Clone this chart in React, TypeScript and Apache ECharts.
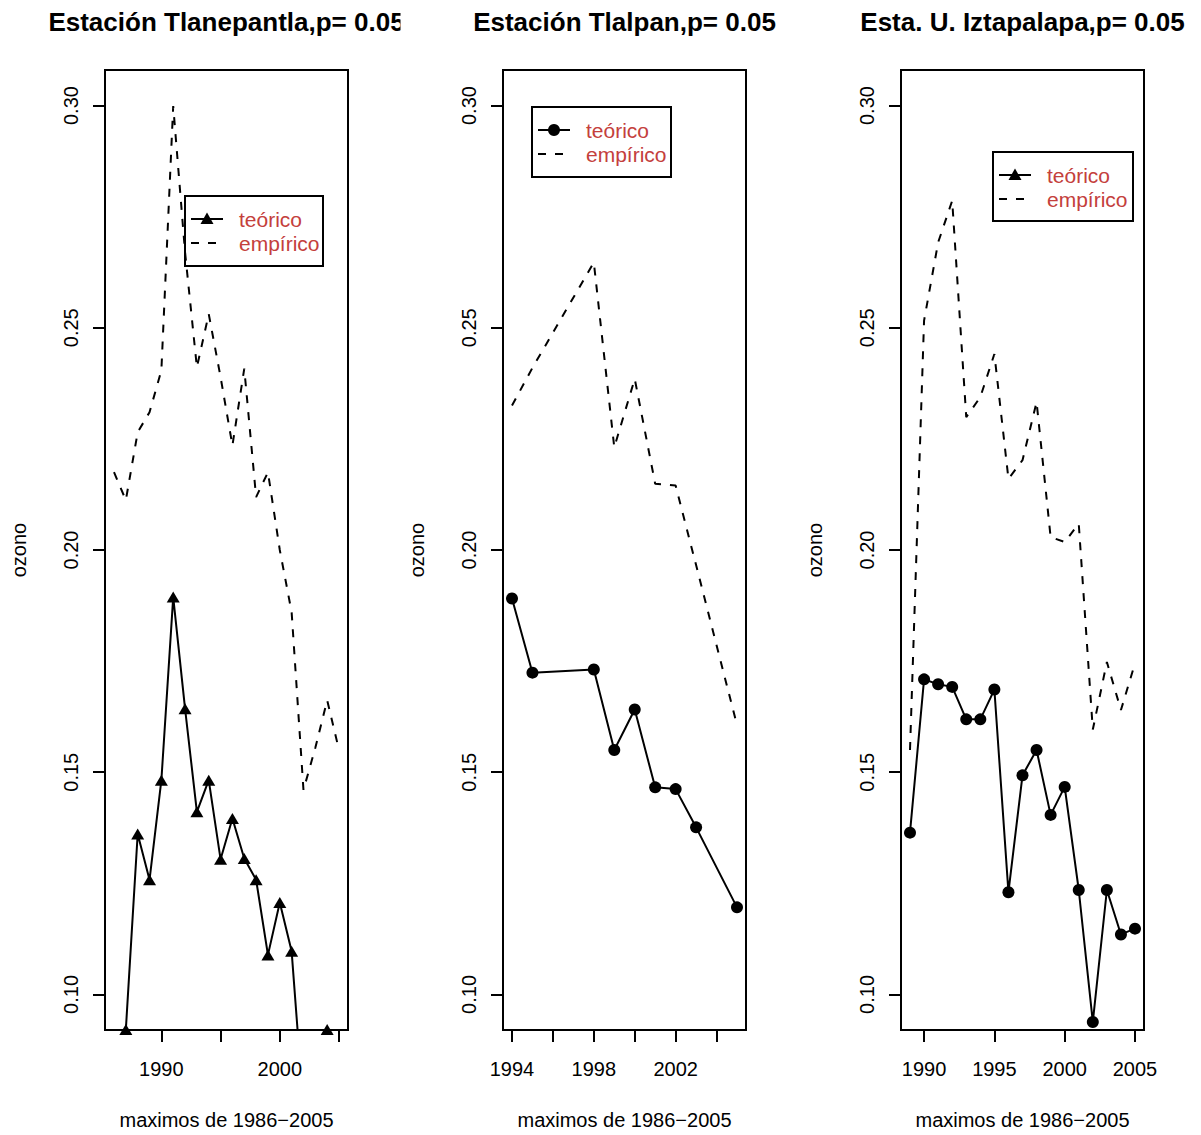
import React, { useEffect, useRef } from "react";
import * as echarts from "echarts";

// ---- Data ----
const titles = [
  "Estación Tlanepantla,p= 0.05",
  "Estación Tlalpan,p= 0.05",
  "Esta. U. Iztapalapa,p= 0.05",
];
const xAxisTitle = "maximos de 1986−2005";
const yAxisTitle = "ozono";
const legendNames = ["teórico", "empírico"];

// Panel 1: Tlanepantla
const years1 = [1986, 1987, 1988, 1989, 1990, 1991, 1992, 1993, 1994, 1995, 1996, 1997, 1998, 1999, 2000, 2001, 2002, 2003, 2004, 2005];
const teorico1 = [0.080, 0.0921, 0.1361, 0.1258, 0.1482, 0.1894, 0.1643, 0.1411, 0.1482, 0.1304, 0.1396, 0.1306, 0.1258, 0.1089, 0.1207, 0.1097, 0.0744, 0.078, 0.0921, 0.085];
const empirico1 = [0.2175, 0.2112, 0.2265, 0.2310, 0.2404, 0.2999, 0.2670, 0.2411, 0.2531, 0.2389, 0.2235, 0.2408, 0.2119, 0.2175, 0.2000, 0.1860, 0.1460, 0.1555, 0.1662, 0.1550];

// Panel 2: Tlalpan
const years2 = [1994, 1995, 1998, 1999, 2000, 2001, 2002, 2003, 2005];
const teorico2 = [0.1891, 0.1724, 0.1731, 0.1550, 0.1641, 0.1466, 0.1462, 0.1376, 0.1196];
const empirico2 = [0.2325, 0.2410, 0.2647, 0.2231, 0.2385, 0.2149, 0.2145, 0.1966, 0.1606];

// Panel 3: Iztapalapa
const years3 = [1989, 1990, 1991, 1992, 1993, 1994, 1995, 1996, 1997, 1998, 1999, 2000, 2001, 2002, 2003, 2004, 2005];
const teorico3 = [0.1364, 0.1709, 0.1698, 0.1692, 0.1619, 0.1619, 0.1686, 0.1230, 0.1493, 0.1550, 0.1404, 0.1467, 0.1235, 0.0938, 0.1235, 0.1135, 0.1148];
const empirico3 = [0.1550, 0.2516, 0.2692, 0.2786, 0.2299, 0.2344, 0.2441, 0.2160, 0.2202, 0.2333, 0.2029, 0.2018, 0.2059, 0.1596, 0.1748, 0.1640, 0.1745];

// Axis ticks
const yTicks = [0.10, 0.15, 0.20, 0.25, 0.30];
const xTicks1 = [1990, 1995, 2000, 2005];
const xLabels1 = [1990, 2000];
const xTicks2 = [1994, 1996, 1998, 2000, 2002, 2004];
const xLabels2 = [1994, 1998, 2002];
const xTicks3 = [1990, 1995, 2000, 2005];
const xLabels3 = [1990, 1995, 2000, 2005];

const FONT = "'Liberation Sans', Arial, Helvetica, sans-serif";
const LEGEND_COLOR = "#C4403C";

const zip = (xs: number[], ys: number[]) => xs.map((x, i) => [x, ys[i]]);

function rExtent(lo: number, hi: number): [number, number] {
  const d = (hi - lo) * 0.04;
  return [lo - d, hi + d];
}

export default function App() {
  const ref = useRef<HTMLDivElement>(null);

  useEffect(() => {
    if (!ref.current) return;
    const chart = echarts.init(ref.current, null, { renderer: "svg" });

    const panels = [
      { left: 105, years: years1, teo: teorico1, emp: empirico1, xTicks: xTicks1, xLabels: xLabels1, symbol: "triangle", symSize: [13, 11], legendSym: "triangle", legend: { x: 185, y: 196, w: 138, h: 70 } },
      { left: 503, years: years2, teo: teorico2, emp: empirico2, xTicks: xTicks2, xLabels: xLabels2, symbol: "circle", symSize: 12, legendSym: "circle", legend: { x: 532, y: 107, w: 139, h: 70 } },
      { left: 901, years: years3, teo: teorico3, emp: empirico3, xTicks: xTicks3, xLabels: xLabels3, symbol: "circle", symSize: 12, legendSym: "triangle", legend: { x: 993, y: 152, w: 140, h: 69 } },
    ];
    const gridTop = 70;
    const gridW = 243;
    const gridH = 963;
    const [yMin, yMax] = rExtent(0.1, 0.3);

    const grids: any[] = [];
    const xAxes: any[] = [];
    const yAxes: any[] = [];
    const series: any[] = [];
    const titleOpts: any[] = [];
    const graphics: any[] = [];

    panels.forEach((p, i) => {
      grids.push({
        left: p.left, top: gridTop, width: gridW, height: gridH,
        show: true, borderColor: "#000", borderWidth: 2, backgroundColor: "transparent",
      });
      const [xMin, xMax] = rExtent(p.years[0], p.years[p.years.length - 1]);
      xAxes.push({
        type: "value", gridIndex: i, min: xMin, max: xMax,
        axisLine: { show: false },
        splitLine: { show: false },
        axisTick: { show: true, length: 12, inside: false, lineStyle: { color: "#000", width: 2 }, customValues: p.xTicks },
        axisLabel: { show: true, customValues: p.xLabels, color: "#000", fontSize: 20, fontFamily: FONT, margin: 29, formatter: (v: number) => String(Math.round(v)) },
        name: xAxisTitle, nameLocation: "middle", nameGap: 80,
        nameTextStyle: { color: "#000", fontSize: 20, fontFamily: FONT },
      });
      yAxes.push({
        type: "value", gridIndex: i, min: yMin, max: yMax,
        axisLine: { show: false },
        splitLine: { show: false },
        axisTick: { show: true, length: 12, inside: false, lineStyle: { color: "#000", width: 2 }, customValues: yTicks },
        axisLabel: { show: true, customValues: yTicks, rotate: 90, color: "#000", fontSize: 20, fontFamily: FONT, margin: 24, formatter: (v: number) => v.toFixed(2) },
        name: yAxisTitle, nameLocation: "middle", nameRotate: 90, nameGap: 76,
        nameTextStyle: { color: "#000", fontSize: 20, fontFamily: FONT },
      });
      series.push({
        type: "line", name: legendNames[0], xAxisIndex: i, yAxisIndex: i,
        data: zip(p.years, p.teo),
        symbol: p.symbol, symbolSize: p.symSize, showSymbol: true, showAllSymbol: true,
        itemStyle: { color: "#000" },
        lineStyle: { color: "#000", width: 2 },
        clip: true, z: 3,
      });
      series.push({
        type: "line", name: legendNames[1], xAxisIndex: i, yAxisIndex: i,
        data: zip(p.years, p.emp),
        symbol: "none", showSymbol: false,
        lineStyle: { color: "#000", width: 2, type: [8, 9] },
        clip: true, z: 2,
      });
      titleOpts.push({
        text: titles[i], left: p.left + gridW / 2, top: 9, textAlign: "center", padding: 0,
        textStyle: { fontSize: 26, fontWeight: "bold", color: "#000", fontFamily: FONT },
      });

      // legend box
      const L = p.legend;
      const y1 = L.y + 23;
      const y2 = L.y + 47;
      const sx0 = L.x + 6;
      const sx1 = L.x + 38;
      const mx = (sx0 + sx1) / 2;
      graphics.push({ type: "rect", shape: { x: L.x, y: L.y, width: L.w, height: L.h }, style: { fill: "transparent", stroke: "#000", lineWidth: 2 }, z: 50 });
      graphics.push({ type: "line", shape: { x1: sx0, y1: y1, x2: sx1, y2: y1 }, style: { stroke: "#000", lineWidth: 2 }, z: 50 });
      if (p.legendSym === "triangle") {
        graphics.push({ type: "polygon", shape: { points: [[mx, y1 - 6.5], [mx - 6.5, y1 + 5], [mx + 6.5, y1 + 5]] }, style: { fill: "#000" }, z: 51 });
      } else {
        graphics.push({ type: "circle", shape: { cx: mx, cy: y1, r: 6 }, style: { fill: "#000" }, z: 51 });
      }
      graphics.push({ type: "line", shape: { x1: sx0, y1: y2, x2: sx1, y2: y2 }, style: { stroke: "#000", lineWidth: 2, lineDash: [8, 9] }, z: 50 });
      graphics.push({ type: "text", x: L.x + 54, y: y1, style: { text: legendNames[0], fill: LEGEND_COLOR, font: `21px ${FONT}`, verticalAlign: "middle", align: "left" }, z: 51 });
      graphics.push({ type: "text", x: L.x + 54, y: y2, style: { text: legendNames[1], fill: LEGEND_COLOR, font: `21px ${FONT}`, verticalAlign: "middle", align: "left" }, z: 51 });
    });

    // clip first title at the edge of its figure region
    graphics.push({ type: "rect", shape: { x: 400.5, y: 0, width: 64, height: 50 }, style: { fill: "#fff" }, z: 100 });

    chart.setOption({
      animation: false,
      backgroundColor: "#fff",
      title: titleOpts,
      grid: grids,
      xAxis: xAxes,
      yAxis: yAxes,
      series,
      graphic: { elements: graphics },
    });

    return () => chart.dispose();
  }, []);

  return (
    <div
      ref={ref}
      style={{ position: "absolute", left: 0, top: 0, width: 1201, height: 1135 }}
    />
  );
}
